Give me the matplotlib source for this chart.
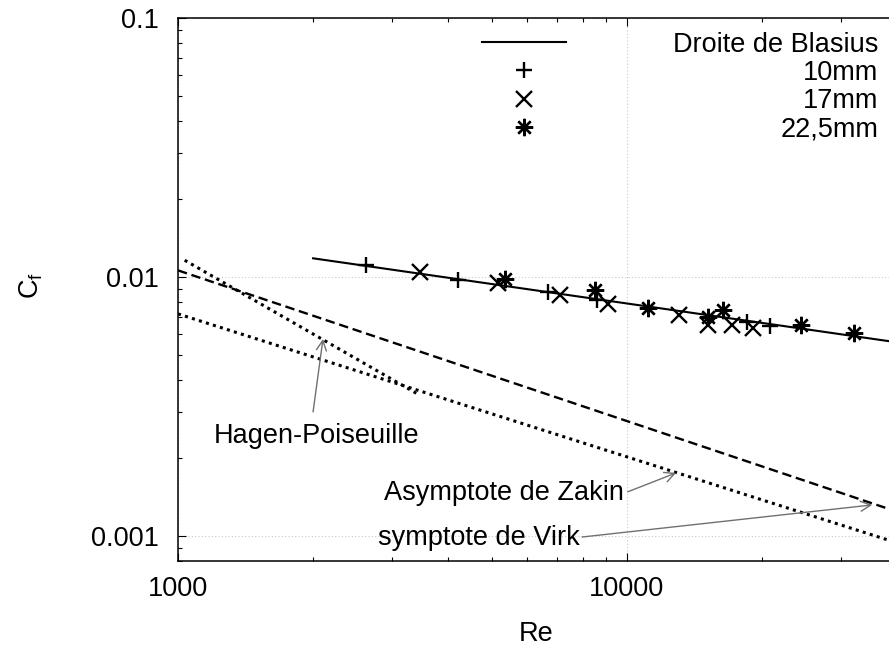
import matplotlib
matplotlib.use("Agg")
import matplotlib.pyplot as plt
from matplotlib import ticker

# Lines (end points)
blasius_re = [2000, 40000]
blasius_cf = [0.0118, 0.00559]
virk_re = [1000, 40000]
virk_cf = [0.0106, 0.00124]
zakin_re = [1000, 40000]
zakin_cf = [0.0072, 0.00094]
hagen_re = [1035, 3400]
hagen_cf = [0.0116, 0.00355]

# Measured points
re_10mm = [2624, 4207, 6677, 8585, 18540, 20860]
cf_10mm = [0.01112, 0.00974, 0.00875, 0.00815, 0.00670, 0.00647]
re_17mm = [3462, 5168, 7100, 9085, 13080, 15180, 17170, 19120]
cf_17mm = [0.01045, 0.00948, 0.00852, 0.00787, 0.00713, 0.00653, 0.00653, 0.00636]
re_22mm = [5356, 8500, 11150, 15180, 16390, 24450, 32110]
cf_22mm = [0.00982, 0.00891, 0.00759, 0.00701, 0.00746, 0.00653, 0.00608]

labels = ["Droite de Blasius", "10mm", "17mm", "22,5mm"]

plt.rcParams['font.family'] = ['Liberation Sans', 'DejaVu Sans']
plt.rcParams['font.size'] = 19.5

fig = plt.figure(figsize=(8.89, 6.46), dpi=100)
ax = fig.add_axes([0.2002, 0.1316, 0.8088, 0.8406])

ax.set_xscale('log')
ax.set_yscale('log')
ax.set_xlim(1000, 40000)
ax.set_ylim(0.0008, 0.1)

ax.grid(which='major', color='#c8c8c8', linestyle=(0, (1, 2)), linewidth=0.8)
ax.set_axisbelow(True)

l_bl, = ax.plot(blasius_re, blasius_cf, color='black', lw=1.5)
ax.plot(virk_re, virk_cf, color='black', lw=1.7, linestyle=(0, (4, 2)))
ax.plot(zakin_re, zakin_cf, color='black', lw=2.2, linestyle=(0, (1, 1.4)))
ax.plot(hagen_re, hagen_cf, color='black', lw=2.2, linestyle=(0, (1, 1.4)))

p10, = ax.plot(re_10mm, cf_10mm, linestyle='none', marker='+', ms=12, mew=1.7, color='black')
p17, = ax.plot(re_17mm, cf_17mm, linestyle='none', marker='x', ms=11.5, mew=1.7, color='black')
p22, = ax.plot(re_22mm, cf_22mm, linestyle='none', marker=(8, 2, 0), ms=12.5, mew=1.7, color='black')

arrow = dict(arrowstyle='->', color='#707070', lw=1, mutation_scale=18, shrinkA=0, shrinkB=0)
ax.text(2031, 0.00243, "Hagen-Poiseuille", ha='center', va='center')
ax.annotate('', xy=(2104, 0.005763), xytext=(2000, 0.003012), arrowprops=arrow)
ax.text(9863, 0.001465, "Asymptote de Zakin", ha='right', va='center')
ax.annotate('', xy=(12880, 0.001751), xytext=(10050, 0.00148), arrowprops=arrow)
ax.text(7869, 0.00098, "symptote de Virk", ha='right', va='center')
ax.annotate('', xy=(35220, 0.001317), xytext=(7950, 0.00099), arrowprops=arrow)

ax.xaxis.set_major_formatter(ticker.FormatStrFormatter('%g'))
ax.yaxis.set_major_formatter(ticker.FormatStrFormatter('%g'))
ax.xaxis.set_minor_formatter(ticker.NullFormatter())
ax.yaxis.set_minor_formatter(ticker.NullFormatter())
ax.tick_params(which='both', direction='in', top=True, right=True, width=0.8)
ax.tick_params(which='major', length=6)
ax.tick_params(which='minor', length=3)
ax.tick_params(axis='x', pad=11)
ax.tick_params(axis='y', pad=14)
for s in ax.spines.values():
    s.set_linewidth(1.1)

ax.set_xlabel("Re")
ax.set_ylabel(r"C$_\mathregular{f}$", rotation=90)
ax.xaxis.set_label_coords(0.498, -0.11)
ax.yaxis.set_label_coords(-0.185, 0.508)

leg = ax.legend([l_bl, p10, p17, p22], labels, loc='upper right',
                bbox_to_anchor=(0.9736, 0.975), frameon=False, borderpad=0,
                borderaxespad=0, handlelength=3.1, handletextpad=3.95,
                labelspacing=0.09, fontsize=19.5)

# right-align the legend texts like gnuplot does
fig.canvas.draw()
r = fig.canvas.get_renderer()
widths = [t.get_window_extent(r).width for t in leg.get_texts()]
wmax = max(widths)
for t, w in zip(leg.get_texts(), widths):
    t.set_x(wmax - w)

fig.savefig("out.png", dpi=100)
